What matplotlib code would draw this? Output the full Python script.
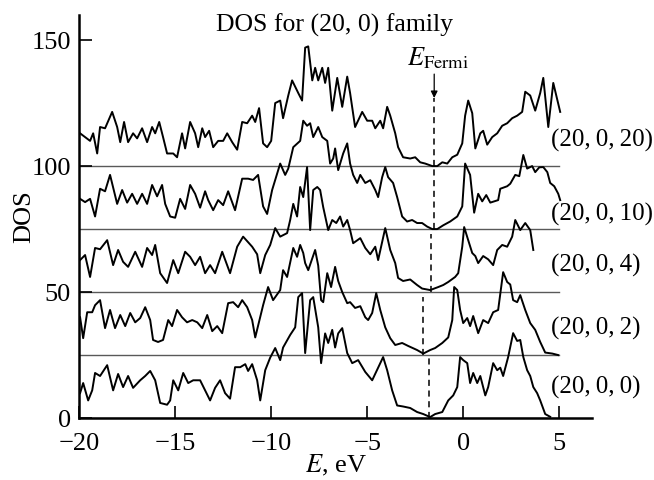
import matplotlib
matplotlib.use("Agg")
import matplotlib.pyplot as plt

plt.rcParams["font.family"] = ["Liberation Serif", "DejaVu Serif"]
plt.rcParams["mathtext.fontset"] = "stix"

# ---- data (E in eV, DOS incl. vertical offset) ----
aLabel = ['(20,\u20090,\u200920)', '(20,\u20090,\u200910)', '(20,\u20090,\u20094)',
          '(20,\u20090,\u20092)', '(20,\u20090,\u20090)']
aBaseline = [100, 75, 50, 25, 0]
aLabel_y = [110, 81, 60.7, 35.7, 12.3]

aE_20 = [-19.95, -19.69, -19.43, -19.27, -19.06, -18.91, -18.65, -18.28, -18.02, -17.86, -17.66, -17.45,
         -17.19, -16.98, -16.72, -16.46, -16.20, -16.04, -15.83, -15.63, -15.42, -15.10, -14.90, -14.64,
         -14.48, -14.22, -13.96, -13.80, -13.59, -13.44, -13.23, -13.02, -12.76, -12.50, -12.29, -12.03,
         -11.77, -11.51, -11.25, -10.99, -10.83, -10.63, -10.42, -10.21, -10.00, -9.79, -9.53, -9.38,
         -9.11, -8.91, -8.59, -8.39, -8.23, -8.07, -7.86, -7.71, -7.55, -7.34, -7.19, -7.03, -6.82, -6.56,
         -6.30, -6.04, -5.89, -5.63, -5.26, -5.00, -4.74, -4.58, -4.32, -4.17, -3.96, -3.80, -3.54, -3.39,
         -3.13, -2.76, -2.50, -2.24, -1.98, -1.61, -1.35, -1.09, -0.83, -0.57, -0.31, -0.05, 0.10, 0.26,
         0.47, 0.63, 0.89, 1.04, 1.25, 1.51, 1.77, 2.03, 2.29, 2.55, 2.81, 3.07, 3.23, 3.49, 3.75, 4.01,
         4.17, 4.43, 4.69, 5.05]
aDos_20 = [113, 111.5, 110, 113, 105, 115.5, 115, 121.5, 115.5, 109.5, 117.5, 109.5,
           113, 111, 115, 109.5, 115.5, 113, 117.5, 111.5, 105, 105, 103.5, 113,
           107, 117.5, 113, 107.5, 115, 111.5, 114, 107.5, 110, 110, 113, 109.5,
           106.5, 117.5, 117, 120, 117.5, 123, 109, 107.5, 110, 125, 126, 119,
           128, 134, 129, 126, 147, 147.5, 134, 139, 134, 139, 133, 139, 122, 135,
           123.5, 135.5, 129, 115.5, 121.5, 118, 118, 115, 118, 115, 123.5, 120, 113, 107.5,
           103.5, 103, 103.5, 101.5, 101, 100, 100, 101.5, 101, 103.5, 104.5, 109, 120, 126,
           121, 107, 113, 114, 108.5, 111.5, 113, 116, 117, 119, 120, 121.5, 129.5, 128, 122, 129,
           135, 115.5, 133, 121.5]

aE_10 = [-19.95, -19.69, -19.43, -19.17, -18.91, -18.65, -18.39, -18.02, -17.76, -17.50, -17.24, -16.98,
         -16.72, -16.46, -16.20, -15.94, -15.68, -15.52, -15.26, -15.00, -14.74, -14.48, -14.22, -13.96,
         -13.70, -13.44, -13.28, -13.02, -12.76, -12.50, -12.24, -11.88, -11.51, -11.20, -10.94, -10.68,
         -10.42, -10.21, -9.95, -9.53, -9.27, -9.11, -8.85, -8.49, -8.33, -8.13, -7.97, -7.81, -7.55,
         -7.34, -7.08, -6.93, -6.77, -6.67, -6.51, -6.25, -6.04, -5.89, -5.73, -5.52, -5.36, -5.10, -4.84,
         -4.58, -4.43, -4.22, -4.06, -3.91, -3.65, -3.44, -3.18, -2.92, -2.66, -2.40, -2.14, -1.88, -1.61,
         -1.35, -1.04, -0.68, -0.31, -0.05, 0.10, 0.36, 0.57, 0.78, 0.99, 1.20, 1.41, 1.82, 1.93, 2.29,
         2.45, 2.71, 2.92, 3.13, 3.33, 3.59, 3.75, 3.96, 4.17, 4.38, 4.53, 4.74, 4.95, 5.05]
aDos_10 = [87, 85.7, 87, 80, 91, 90, 96.5, 85, 90.5, 85.5, 89, 85,
           89, 85, 92.5, 88, 92.5, 85, 80, 79.5, 87, 83, 92.5, 89,
           83.5, 90, 86.5, 82.5, 86.5, 84.5, 90, 82.5, 95, 95, 94.5, 96.5,
           84, 81, 90.5, 101, 96.5, 99, 107.5, 110, 118, 116, 117, 111.5, 115.5,
           111.5, 110, 101, 103, 107, 98.4, 105, 109, 101, 96.5, 93.3, 96.5, 93.3, 94.4,
           90.5, 87.7, 95.6, 99.6, 95.6, 93.3, 87.7, 80, 78, 78.6, 77.4, 77.4, 76, 75,
           75, 76.5, 78, 80, 84, 101, 96.5, 81.5, 89, 86, 88.5, 85.5, 86.5, 91, 92,
           93, 96.5, 96, 104.4, 99, 100, 97.6, 99.5, 99.6, 97.6, 93.3, 92, 89, 86.5]

aE_4 = [-19.95, -19.69, -19.43, -19.17, -18.91, -18.54, -18.23, -17.97, -17.71, -17.45, -17.08, -16.72,
        -16.46, -16.20, -16.04, -15.78, -15.42, -15.10, -14.84, -14.48, -14.22, -13.96, -13.70, -13.44,
        -13.18, -12.92, -12.55, -12.14, -11.77, -11.46, -10.99, -10.73, -10.57, -10.31, -10.05, -9.79,
        -9.53, -9.17, -9.01, -8.85, -8.65, -8.49, -8.33, -8.13, -7.97, -7.81, -7.60, -7.45, -7.29, -7.03,
        -6.82, -6.61, -6.41, -6.25, -6.04, -5.89, -5.73, -5.36, -5.10, -4.84, -4.58, -4.43, -4.06, -3.80,
        -3.54, -3.39, -3.13, -2.76, -2.40, -2.14, -1.72, -1.30, -1.04, -0.78, -0.42, -0.26, -0.05, 0.05,
        0.26, 0.47, 0.63, 0.78, 1.04, 1.30, 1.56, 1.77, 2.03, 2.29, 2.55, 2.71, 2.97, 3.23, 3.49, 3.65]
aDos_4 = [62.7, 64.7, 56, 67.5, 67, 70.6, 60.7, 66.7, 62, 60, 66, 60,
          67.5, 64.7, 68.7, 57.5, 53.6, 62.7, 57.5, 66, 64, 60.7, 64, 57.5,
          60.7, 57.5, 66, 57.5, 68, 72, 68, 65, 57.5, 64.7, 68.7, 75.4,
          72, 73.4, 78.6, 85, 80, 91.7, 87.7, 99.6, 74.6, 90.5, 91.7, 90.5, 83.7, 74.6,
          78.6, 77.4, 80, 76, 78.6, 74.6, 69.4, 71.4, 67.5, 65, 68, 62.7, 75.4, 66.7,
          61.5, 55.6, 54.4, 55, 52.8, 51.4, 50.8, 52, 52.8, 54, 56, 57.5, 68, 75.8,
          70.6, 65.5, 64.3, 61.5, 64.3, 63, 60.7, 66.7, 68.7, 68, 72, 78.6, 74.6, 77.4, 74.6, 66.7]

aE_2 = [-19.95, -19.79, -19.58, -19.32, -19.17, -18.91, -18.65, -18.39, -18.13, -17.86, -17.60, -17.34,
        -17.08, -16.82, -16.56, -16.30, -16.15, -15.89, -15.63, -15.36, -15.16, -14.90, -14.64, -14.38,
        -14.11, -13.85, -13.59, -13.33, -13.07, -12.81, -12.55, -12.24, -11.98, -11.72, -11.51, -11.25,
        -10.99, -10.83, -10.42, -10.16, -9.90, -9.53, -9.38, -9.17, -8.85, -8.65, -8.49, -8.33, -8.23,
        -8.07, -7.71, -7.55, -7.40, -7.29, -7.08, -6.88, -6.67, -6.51, -6.30, -6.04, -5.89, -5.63, -5.36,
        -5.10, -4.95, -4.74, -4.53, -4.32, -4.06, -3.80, -3.54, -3.18, -2.86, -2.40, -2.08, -1.72, -1.46,
        -1.09, -0.78, -0.57, -0.47, -0.31, -0.16, 0.0, 0.21, 0.36, 0.52, 0.78, 1.04, 1.30, 1.56, 1.82,
        2.08, 2.29, 2.45, 2.60, 2.81, 2.97, 3.23, 3.49, 3.75, 4.01, 4.27, 4.64, 4.95]
aDos_2 = [40, 31.7, 42, 42, 44.8, 46.8, 35.7, 42.9, 35.7, 40.9, 36.5, 41.7,
          38, 39.7, 44, 38.9, 31, 30.2, 31, 38.9, 36.5, 42.9, 40, 38,
          38.9, 38, 35.7, 40.9, 34.5, 36.5, 33.7, 45.6, 46, 44, 46.8, 44,
          38.9, 32, 44.8, 52, 46.8, 50.8, 58.7, 56, 67.5, 64, 68.7, 65.5, 61.5,
          58.7, 66.7, 60.5, 46.8, 46, 57.5, 52, 60, 54.4, 50, 45.6, 46, 43.7, 44.4,
          40, 38.9, 41.7, 49.6, 42.9, 36, 31.7, 29, 29.8, 28.6, 27, 25.6, 27, 27.8,
          29.8, 32, 38.9, 52, 50.8, 42.9, 37.7, 39.7, 36.5, 40.5, 33.7, 38.9, 37.7, 42, 42.9,
          57.9, 54, 53, 46.8, 46, 48.8, 42.9, 37.7, 35, 30.2, 26, 25.6, 25]

aE_0 = [-19.95, -19.79, -19.53, -19.32, -19.17, -18.91, -18.54, -18.23, -17.97, -17.71, -17.45, -17.19,
        -16.82, -16.56, -16.30, -16.04, -15.78, -15.42, -15.26, -15.10, -14.84, -14.58, -14.32, -14.06,
        -13.70, -13.44, -13.18, -12.92, -12.66, -12.40, -12.14, -11.88, -11.61, -11.35, -11.20, -10.99,
        -10.73, -10.57, -10.31, -10.05, -9.79, -9.53, -9.38, -9.01, -8.75, -8.59, -8.39, -8.23, -7.97,
        -7.81, -7.55, -7.40, -7.19, -7.03, -6.82, -6.67, -6.51, -6.30, -6.04, -5.78, -5.47, -5.10, -4.74,
        -4.43, -4.17, -3.96, -3.70, -3.44, -3.13, -2.76, -2.40, -2.08, -1.72, -1.46, -1.09, -0.78, -0.52,
        -0.31, -0.16, 0.0, 0.21, 0.36, 0.52, 0.73, 0.89, 1.15, 1.30, 1.56, 1.77, 1.93, 2.08, 2.34, 2.60,
        2.81, 2.97, 3.13, 3.33, 3.49, 3.65, 3.85, 4.01, 4.27, 4.53]
aDos_0 = [9.9, 13.9, 7, 11, 17.9, 16.7, 21, 11, 17.5, 12.3, 16.7, 12,
          15, 16.7, 18.7, 15, 6, 5.3, 7, 15, 11, 17.9, 13.9, 15,
          15, 11, 7, 12, 15, 9.9, 7.7, 20.2, 20.2, 21.4, 18.7, 21.4,
          15, 7, 19, 24, 27.8, 23, 28, 33, 36, 48, 49.6, 25.8, 46.8,
          48, 36, 21.8, 33.6, 29.8, 35, 28, 33.6, 35.7, 25.8, 21.8, 23, 18.3, 15,
          20, 24.2, 19, 11, 5, 4.6, 4, 2.4, 1.6, 0.4, 1.6, 2.4, 7, 9,
          12.3, 24.2, 23, 21.8, 13.9, 17.9, 13.9, 16.7, 9, 12.3, 21.8, 19, 20, 16.7, 24.2, 33.7,
          30.6, 31, 24.2, 19, 16.7, 12.3, 9.9, 7, 1.6, 0.5]

aE_all = [aE_20, aE_10, aE_4, aE_2, aE_0]
aDos_all = [aDos_20, aDos_10, aDos_4, aDos_2, aDos_0]

# Fermi level of each system and extent of its dashed marker
aE_fermi = [-1.51, -1.51, -1.67, -2.10, -1.78]
aFermi_top = [127, 100, 73, 48, 25]

fig = plt.figure(figsize=(6.54, 4.80), dpi=100)
ax = fig.add_axes([0.121, 0.129, 0.784, 0.840])

for i in range(len(aLabel)):
    ax.plot([-20, 5], [aBaseline[i], aBaseline[i]], color='0.35', lw=1.0, zorder=1)
    ax.plot(aE_all[i], aDos_all[i], color='black', lw=1.4, zorder=3)
    ax.plot([aE_fermi[i], aE_fermi[i]], [aBaseline[i], aFermi_top[i]],
            color='black', lw=1.1, ls=(0, (4, 3)), zorder=2)
    ax.text(4.58, aLabel_y[i], aLabel[i], fontsize=18, ha='left', va='center')

# E_Fermi arrow and label
ax.annotate('', xy=(aE_fermi[0], 127), xytext=(aE_fermi[0], 136.5),
            arrowprops=dict(arrowstyle='-|>', color='black', lw=0.9,
                            mutation_scale=10, shrinkA=0, shrinkB=0))
ax.text(-1.3, 143, r'$E_{\mathrm{Fermi}}$', fontsize=19, ha='center', va='center')
ax.text(-6.7, 156, 'DOS for (20, 0) family', fontsize=18.5, ha='center', va='center')

ax.set_xlim(-20, 6.7)
ax.set_ylim(0, 160)
ax.set_xticks([-20, -15, -10, -5, 0, 5])
ax.set_yticks([0, 50, 100, 150])
ax.spines['top'].set_visible(False)
ax.spines['right'].set_visible(False)
ax.spines['left'].set_linewidth(1.8)
ax.spines['bottom'].set_linewidth(1.8)
ax.tick_params(direction='in', length=9, width=1.2, labelsize=19)
ax.tick_params(axis='x', pad=11)
ax.tick_params(axis='y', pad=6)
ax.set_xlabel(r'$E$, eV', fontsize=19, labelpad=-2)
ax.set_ylabel('DOS', fontsize=19, labelpad=-3)

plt.savefig('out.png', dpi=100)
